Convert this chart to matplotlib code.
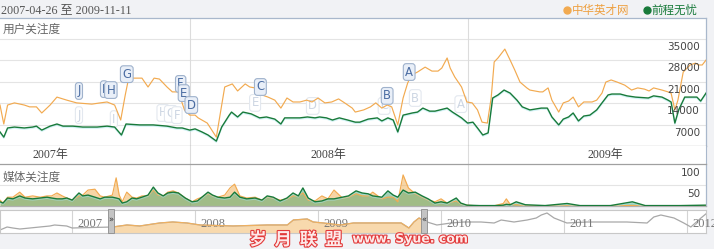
import matplotlib
matplotlib.use("Agg")
import matplotlib.pyplot as plt
import matplotlib.patheffects as pe
import matplotlib.transforms as mtrans
import matplotlib.dates as mdates
from matplotlib.patches import Rectangle
from matplotlib.lines import Line2D
import pandas as pd

# ---------------- data ----------------
date_from = "2007-04-26"
date_to = "2009-11-11"
series_names = ["中华英才网", "前程无忧"]

orange_dates = [
    "2007-04-26", "2007-05-01", "2007-05-06", "2007-05-15", "2007-05-28", "2007-06-04",
    "2007-06-13", "2007-06-20", "2007-07-01", "2007-07-10", "2007-07-23", "2007-08-05",
    "2007-08-25", "2007-09-05", "2007-09-14", "2007-09-24", "2007-10-02", "2007-10-08",
    "2007-10-12", "2007-10-17", "2007-10-24", "2007-10-30", "2007-11-07", "2007-11-15",
    "2007-11-22", "2007-12-02", "2007-12-09", "2007-12-17", "2007-12-25", "2008-01-01",
    "2008-01-08", "2008-01-12", "2008-01-24", "2008-01-30", "2008-02-05", "2008-02-16",
    "2008-02-22", "2008-02-26", "2008-03-04", "2008-03-14", "2008-03-20", "2008-03-27",
    "2008-04-05", "2008-04-13", "2008-04-22", "2008-04-30", "2008-05-08", "2008-05-16",
    "2008-05-25", "2008-06-03", "2008-06-10", "2008-06-18", "2008-06-27", "2008-07-06",
    "2008-07-15", "2008-07-23", "2008-08-02", "2008-08-06", "2008-08-17", "2008-08-26",
    "2008-09-02", "2008-09-10", "2008-09-17", "2008-09-23", "2008-10-01", "2008-10-08",
    "2008-10-14", "2008-10-19", "2008-10-27", "2008-11-06", "2008-11-15", "2008-11-23",
    "2008-11-28", "2008-12-05", "2008-12-09", "2008-12-15", "2008-12-24", "2008-12-31",
    "2009-01-07", "2009-01-14", "2009-01-20", "2009-01-27", "2009-02-01", "2009-02-05",
    "2009-02-10", "2009-02-19", "2009-02-26", "2009-03-04", "2009-03-11", "2009-03-20",
    "2009-03-24", "2009-04-06", "2009-04-10", "2009-04-17", "2009-04-22", "2009-05-01",
    "2009-05-07", "2009-05-14", "2009-05-20", "2009-05-27", "2009-06-03", "2009-06-14",
    "2009-06-20", "2009-06-27", "2009-07-02", "2009-07-09", "2009-07-17", "2009-07-27",
    "2009-08-05", "2009-08-13", "2009-08-22", "2009-08-28", "2009-09-03", "2009-09-14",
    "2009-09-22", "2009-09-26", "2009-10-01", "2009-10-05", "2009-10-12", "2009-10-21",
    "2009-10-28", "2009-11-01", "2009-11-06", "2009-11-11",
]
orange_values = [
    13400, 7200, 13400, 14100, 13400, 12800,
    12800, 10800, 13400, 16000, 15000, 14100,
    13700, 14100, 14400, 13400, 8500, 16700,
    21600, 22200, 22200, 22200, 19300, 22200,
    21900, 19300, 17700, 17700, 11800, 10100,
    10100, 9200, 7500, 5200, 2900, 19300,
    19900, 20300, 18000, 20300, 19300, 19000,
    16700, 16000, 15000, 12400, 15700, 14400,
    14400, 15000, 14400, 15700, 14100, 14400,
    15400, 14100, 12400, 11100, 11800, 12800,
    14100, 12400, 13400, 12800, 6900, 15700,
    20600, 23200, 24200, 25800, 24500, 24500,
    25500, 28800, 25500, 22600, 19300, 14400,
    14100, 11800, 7800, 7500, 15700, 27500,
    28800, 31700, 28100, 24900, 20900, 19000,
    18300, 17700, 17700, 19000, 15000, 11100,
    14100, 14700, 16000, 12800, 14400, 14400,
    15000, 17300, 20900, 21600, 20900, 19900,
    18300, 19000, 18600, 18000, 19000, 18300,
    17700, 17300, 11800, 15000, 24200, 26500,
    27100, 26500, 26500, 28100,
]

green_dates = [
    "2007-04-26", "2007-05-01", "2007-05-06", "2007-05-15", "2007-05-28", "2007-06-08",
    "2007-06-13", "2007-06-20", "2007-07-01", "2007-07-10", "2007-07-18", "2007-07-31",
    "2007-08-13", "2007-09-01", "2007-09-14", "2007-09-24", "2007-10-03", "2007-10-09",
    "2007-10-27", "2007-11-14", "2007-12-02", "2007-12-15", "2007-12-22", "2008-01-01",
    "2008-01-08", "2008-01-17", "2008-01-25", "2008-02-05", "2008-02-12", "2008-02-22",
    "2008-02-25", "2008-03-04", "2008-03-11", "2008-03-22", "2008-04-02", "2008-04-11",
    "2008-04-22", "2008-04-30", "2008-05-05", "2008-05-14", "2008-05-25", "2008-06-04",
    "2008-06-14", "2008-06-20", "2008-06-29", "2008-07-07", "2008-07-16", "2008-07-27",
    "2008-08-06", "2008-08-12", "2008-08-23", "2008-09-04", "2008-09-10", "2008-09-18",
    "2008-09-25", "2008-10-01", "2008-10-08", "2008-10-20", "2008-10-27", "2008-11-03",
    "2008-11-12", "2008-11-19", "2008-12-05", "2008-12-12", "2008-12-24", "2009-01-01",
    "2009-01-08", "2009-01-14", "2009-01-21", "2009-01-28", "2009-02-03", "2009-02-10",
    "2009-02-18", "2009-02-26", "2009-03-07", "2009-03-14", "2009-03-24", "2009-04-08",
    "2009-04-16", "2009-04-22", "2009-05-01", "2009-05-07", "2009-05-14", "2009-05-20",
    "2009-05-27", "2009-06-03", "2009-06-11", "2009-06-20", "2009-06-27", "2009-07-05",
    "2009-07-10", "2009-07-21", "2009-07-30", "2009-08-10", "2009-08-27", "2009-09-03",
    "2009-09-14", "2009-09-22", "2009-09-26", "2009-10-01", "2009-10-06", "2009-10-14",
    "2009-10-24", "2009-10-30", "2009-11-04", "2009-11-11",
]
green_values = [
    4600, 2900, 5900, 6200, 5900, 6200,
    6500, 5200, 6500, 7200, 6500, 6500,
    6200, 6200, 6500, 6200, 3600, 7200,
    6900, 6900, 6500, 5900, 5900, 5200,
    5600, 4600, 3600, 1600, 6200, 10100,
    11100, 9500, 11100, 10500, 9200, 9500,
    8800, 7200, 9200, 9200, 9200, 9500,
    9200, 9500, 9200, 8500, 9200, 8500,
    7800, 7800, 8800, 9200, 8200, 9200,
    8500, 4600, 10100, 10800, 11100, 12400,
    11400, 11400, 12400, 11100, 9200, 7500,
    7800, 5900, 3600, 4300, 15700, 16700,
    18300, 17300, 15000, 12800, 11800, 12400,
    12400, 9500, 6900, 8800, 9500, 10800,
    8200, 9800, 10100, 11800, 14100, 16700,
    17000, 17000, 16400, 16000, 15700, 16400,
    16000, 15000, 14400, 7500, 11800, 16000,
    16000, 16000, 14700, 17300,
]
user_ticks = [7000, 14000, 21000, 28000, 35000]

media_dates = [
    "2007-04-26", "2007-04-30", "2007-05-06", "2007-05-13", "2007-05-22", "2007-05-29",
    "2007-06-08", "2007-06-18", "2007-06-27", "2007-07-03", "2007-07-10", "2007-07-17",
    "2007-07-23", "2007-07-30", "2007-08-08", "2007-08-13", "2007-08-20", "2007-08-29",
    "2007-09-05", "2007-09-11", "2007-09-21", "2007-09-26", "2007-09-30", "2007-10-04",
    "2007-10-10", "2007-10-17", "2007-10-23", "2007-10-30", "2007-11-07", "2007-11-14",
    "2007-11-20", "2007-11-27", "2007-12-03", "2007-12-10", "2007-12-17", "2007-12-26",
    "2008-01-04", "2008-01-11", "2008-01-17", "2008-01-25", "2008-01-31", "2008-02-07",
    "2008-02-16", "2008-02-23", "2008-02-29", "2008-03-07", "2008-03-16", "2008-03-27",
    "2008-04-05", "2008-04-12", "2008-04-20", "2008-04-29", "2008-05-08", "2008-05-16",
    "2008-05-23", "2008-05-29", "2008-06-05", "2008-06-14", "2008-06-23", "2008-07-01",
    "2008-07-09", "2008-07-20", "2008-07-28", "2008-08-07", "2008-08-15", "2008-08-23",
    "2008-08-29", "2008-09-10", "2008-09-18", "2008-09-25", "2008-10-01", "2008-10-08",
    "2008-10-15", "2008-10-24", "2008-11-02", "2008-11-10", "2008-11-19", "2008-11-27",
    "2008-12-05", "2008-12-17", "2008-12-23", "2008-12-31", "2009-01-17", "2009-02-06",
    "2009-02-17", "2009-02-21", "2009-02-26", "2009-03-06", "2009-03-18", "2009-04-13",
    "2009-05-12", "2009-05-29", "2009-07-08", "2009-08-06", "2009-08-23", "2009-10-08",
    "2009-11-10",
]
media_green = [
    10, 7, 19, 17, 24, 19, 17, 19, 21, 19, 17, 17,
    19, 14, 31, 24, 26, 21, 17, 21, 21, 19, 17, 7,
    10, 19, 17, 21, 26, 45, 31, 24, 31, 33, 31, 19,
    10, 12, 21, 33, 26, 21, 19, 21, 33, 21, 17, 19,
    14, 24, 21, 12, 19, 31, 24, 43, 19, 10, 12, 17,
    17, 21, 24, 36, 31, 29, 24, 21, 36, 26, 21, 38,
    31, 33, 24, 17, 7, 10, 7, 19, 7, 2, 1, 1,
    2, 4, 3, 10, 3, 1, 6, 1, 1, 10, 1, 1,
    2,
]
media_orange = [
    14, 7, 21, 21, 33, 21, 24, 21, 24, 24, 31, 24,
    19, 14, 24, 26, 38, 40, 24, 21, 26, 67, 26, 10,
    33, 21, 19, 24, 24, 38, 26, 24, 33, 36, 31, 19,
    10, 17, 21, 29, 24, 21, 26, 43, 52, 24, 19, 21,
    14, 21, 19, 14, 17, 24, 24, 31, 14, 12, 24, 17,
    38, 19, 21, 29, 24, 24, 33, 17, 21, 21, 10, 74,
    43, 29, 21, 14, 10, 17, 7, 12, 5, 2, 0, 1,
    6, 17, 4, 3, 1, 1, 1, 0, 1, 1, 0, 1,
    1,
]
media_ticks = [50, 100]

nav_dates = [
    "2006-06-01", "2006-06-22", "2006-07-09", "2006-07-30", "2006-08-29", "2006-09-27",
    "2006-10-27", "2006-11-10", "2006-12-16", "2007-01-01", "2007-05-02", "2007-06-13",
    "2007-07-21", "2007-09-18", "2007-10-27", "2007-12-08", "2008-01-16", "2008-04-23",
    "2008-08-02", "2008-10-01", "2008-10-19", "2008-11-29", "2008-12-17", "2009-01-16",
    "2009-03-08", "2009-04-15", "2009-06-16", "2009-07-24", "2009-09-04", "2009-09-27",
    "2009-10-12", "2009-10-27", "2009-11-20", "2009-12-19", "2010-01-30", "2010-03-09",
    "2010-04-29", "2010-06-07", "2010-06-28", "2010-08-05", "2010-09-13", "2010-10-10",
    "2010-10-25", "2010-11-11", "2010-12-02", "2011-01-09", "2011-03-09", "2011-05-08",
    "2011-07-06", "2011-09-04", "2011-09-24", "2011-10-15", "2011-11-23", "2011-12-22",
    "2012-01-12", "2012-02-11", "2012-02-29",
]
nav_values = [
    3, 6, 5, 4, 5, 6, 7, 8, 7, 5, 6, 8,
    7, 10, 11, 10, 8, 7, 8, 8, 13, 14, 11, 10,
    8, 10, 10, 10, 10, 5, 11, 15, 11, 8, 10, 11,
    11, 10, 13, 11, 13, 15, 18, 20, 15, 10, 11, 11,
    11, 10, 16, 18, 15, 10, 6, 15, 20,
]
nav_years = [2007, 2008, 2009, 2010, 2011, 2012]

flags_strong = [("J", "2007-08-08", 18000), ("I", "2007-09-10", 18600),
                ("H", "2007-09-19", 18300), ("G", "2007-10-10", 23500),
                ("F", "2007-12-20", 20300), ("E", "2007-12-24", 17300),
                ("D", "2008-01-03", 13400), ("C", "2008-04-03", 19300),
                ("B", "2008-09-17", 16400), ("A", "2008-10-16", 24200)]
flags_faded = [("J", "2007-08-08", 10100), ("I", "2007-09-23", 8800),
               ("H", "2007-11-27", 10800), ("G", "2007-12-07", 10500),
               ("F", "2007-12-15", 10100), ("E", "2008-03-27", 14100),
               ("D", "2008-06-11", 13100), ("C", "2008-09-13", 13100),
               ("B", "2008-10-24", 15700), ("A", "2008-12-23", 13700)]

# ---------------- style ----------------
W, H = 714, 249
ORANGE = "#f2aa50"
GREEN = "#187a3a"
BORDER = "#a9b8cc"
CJK = ["Noto Sans CJK SC", "DejaVu Sans"]
SERIF = ["Liberation Serif", "Noto Sans CJK SC"]

fig = plt.figure(figsize=(W / 100, H / 100), dpi=100)
fig.patch.set_facecolor("#f1f2f5")


def box(x0, y0, x1, y1):
    return [x0 / W, 1 - y1 / H, (x1 - x0) / W, (y1 - y0) / H]


def ftext(x, y, s, **kw):
    return fig.text(x / W, 1 - y / H, s, **kw)


def dn(s):
    return mdates.date2num(pd.Timestamp(s).to_pydatetime())


fig.add_artist(Rectangle((0, 1 - 207 / H), 706 / W, (207 - 18) / H,
                         transform=fig.transFigure, fc="white", ec="none", zorder=0))

start, end = dn(date_from), dn(date_to)
year_lines = [dn("2008-01-01"), dn("2009-01-01")]

od = [dn(s) for s in orange_dates]
gd = [dn(s) for s in green_dates]
md = [dn(s) for s in media_dates]
nd = [dn(s) for s in nav_dates]

shadow = [pe.SimpleLineShadow(offset=(0, -0.8), shadow_color="#a6e6ee", alpha=0.5),
          pe.Normal()]

# ---- main (用户关注度) ----
ax1 = fig.add_axes(box(0, 18, 706, 146))
ax1.set_xlim(start, end)
ax1.set_ylim(0, 35000 * 128 / 107)
for v in user_ticks:
    ax1.axhline(v, color="#e4e4e4", lw=0.8, zorder=0)
for d in year_lines:
    ax1.axvline(d, color="#dcdcdc", lw=0.8, zorder=0)
ax1.plot(od, orange_values, color=ORANGE, lw=0.85, zorder=3)
ax1.plot(gd, green_values, color=GREEN, lw=1.0, zorder=3, path_effects=shadow)
for v in user_ticks:
    ax1.annotate(f"{v}", xy=(700 / 706, v), xycoords=("axes fraction", "data"),
                 xytext=(0, -5.8), textcoords="offset points", ha="right", va="center",
                 fontsize=7.5, color="#444444", family="DejaVu Sans", zorder=6,
                 annotation_clip=False)
ax1.set_xticks([]); ax1.set_yticks([])
ax1.spines["left"].set_visible(False)
ax1.spines["top"].set_color(BORDER)
ax1.spines["right"].set_color(BORDER)
ax1.spines["bottom"].set_color("#a0a0a0")
for sp in ax1.spines.values():
    sp.set_linewidth(0.9)


def flag(ax, letter, d, v, strong):
    if strong:
        bb = dict(boxstyle="round,pad=0.16,rounding_size=0.25", fc="#e9eff8",
                  ec="#9fb2cc", lw=0.8)
        col, z = "#4a6ca2", 5
    else:
        bb = dict(boxstyle="round,pad=0.16,rounding_size=0.25", fc="#ffffff",
                  ec="#e3e8ef", lw=0.8)
        col, z = "#cdd6e3", 2
    ax.text(dn(d), v, letter, ha="center", va="center", fontsize=8.4,
            color=col, family="DejaVu Sans", bbox=bb, zorder=z)


for letter, d, v in flags_faded:
    flag(ax1, letter, d, v, False)
for letter, d, v in flags_strong:
    flag(ax1, letter, d, v, True)

# ---- year label row ----
axl = fig.add_axes(box(0, 146, 706, 164))
axl.set_xlim(start, end); axl.set_ylim(0, 1)
axl.set_xticks([]); axl.set_yticks([])
for s in ["left", "top", "bottom"]:
    axl.spines[s].set_visible(False)
axl.spines["right"].set_color(BORDER)
for d in year_lines:
    axl.axvline(d, color="#dcdcdc", lw=0.8)
for yr in [2007, 2008, 2009]:
    axl.text(dn(f"{yr}-07-02"), 0.5, f"{yr}年", ha="center", va="center",
             fontsize=8.6, color="#444444", family=SERIF)

# ---- media (媒体关注度) ----
ax2 = fig.add_axes(box(0, 164, 706, 206))
ax2.set_xlim(start, end); ax2.set_ylim(0, 100)
ax2.axhline(50, color="#e4e4e4", lw=0.8, zorder=0)
for d in year_lines:
    ax2.axvline(d, color="#dcdcdc", lw=0.8, zorder=0)
ax2.fill_between(md, media_orange, color="#f0ad4e", alpha=0.5, lw=0, zorder=1)
ax2.fill_between(md, media_green, color="#5aa86e", alpha=0.55, lw=0, zorder=2)
ax2.plot(md, media_orange, color=ORANGE, lw=0.85, zorder=3)
ax2.plot(md, media_green, color=GREEN, lw=1.0, zorder=4, path_effects=shadow)
for v in media_ticks:
    ax2.annotate(f"{v}", xy=(700 / 706, v), xycoords=("axes fraction", "data"),
                 xytext=(0, -6.2), textcoords="offset points", ha="right", va="center",
                 fontsize=7.5, color="#444444", family="DejaVu Sans", zorder=6,
                 annotation_clip=False)
ax2.set_xticks([]); ax2.set_yticks([])
ax2.spines["left"].set_visible(False)
ax2.spines["top"].set_color("#a0a0a0")
ax2.spines["bottom"].set_color("#b0b0b0")
ax2.spines["right"].set_color(BORDER)
for sp in ax2.spines.values():
    sp.set_linewidth(0.9)

# ---- navigator ----
ax3 = fig.add_axes(box(0, 210, 706, 233))
ax3.set_xlim(dn("2006-06-01"), dn("2012-02-26"))
ax3.set_ylim(0, 23)
ax3.set_xticks([]); ax3.set_yticks([])
for sp in ax3.spines.values():
    sp.set_color("#c8c8c8"); sp.set_linewidth(0.8)
for yr in nav_years:
    ax3.axvline(dn(f"{yr}-01-01"), color="#d4d4d4", lw=0.8, zorder=0)
    t = ax3.annotate(f"{yr}", xy=(dn(f"{yr}-01-01"), 9), xytext=(4, 0),
                     textcoords="offset points", ha="left", va="center", fontsize=9,
                     color="#777777", family=SERIF, annotation_clip=False)
    t.set_clip_on(True)
ax3.plot(nd, nav_values, color="#a8a8a8", lw=0.9, zorder=2)
clip = Rectangle((start, 0), end - start, 23, transform=ax3.transData)
sel_fill = ax3.fill_between(nd, nav_values, color="#f8d9ad", lw=0, zorder=1)
sel_fill.set_clip_path(clip)
sel_line, = ax3.plot(nd, nav_values, color="#eeb060", lw=0.9, zorder=3)
sel_line.set_clip_path(clip)
bt = mtrans.blended_transform_factory(ax3.transData, ax3.transAxes)
for d, arrow in [(start, "»"), (end, "«")]:
    ax3.add_patch(Rectangle((d - 9, -0.02), 18, 1.06, transform=bt, fc="#c4c4c4",
                            ec="#8c8c8c", lw=0.6, clip_on=False, zorder=5))
    ax3.text(d, 0.55, arrow, transform=bt, ha="center", va="center", fontsize=6,
             color="#333333", zorder=6)

# ---- texts ----
ftext(1, 10, f"{date_from} 至 {date_to}", family=SERIF, fontsize=8.7, color="#555555",
      va="center", ha="left")
ftext(3, 29, "用户关注度", family=CJK, fontsize=8.4, color="#666666", va="center")
ftext(3, 177, "媒体关注度", family=CJK, fontsize=8.4, color="#666666", va="center")
fig.add_artist(Line2D([567 / W], [1 - 10 / H], marker="o", markersize=5, color=ORANGE,
                      transform=fig.transFigure, lw=0))
ftext(572, 10, series_names[0], family=CJK, fontsize=8.3, color="#eea040", va="center")
fig.add_artist(Line2D([647 / W], [1 - 10 / H], marker="o", markersize=5, color=GREEN,
                      transform=fig.transFigure, lw=0))
ftext(651, 10, series_names[1], family=CJK, fontsize=8.3, color="#187a3a", va="center")

wm = [pe.withStroke(linewidth=1.6, foreground="#e23a3a")]
ftext(296, 240, "岁  月  联  盟", family=CJK, fontsize=12.5, color="#fde9e9",
      va="center", ha="center", path_effects=wm, weight="bold")
ftext(410, 239, "www. Syue. com", family="DejaVu Sans", fontsize=9, color="#fde9e9",
      va="center", ha="center", path_effects=wm, weight="bold")

fig.savefig("out.png", dpi=100, facecolor=fig.get_facecolor())
